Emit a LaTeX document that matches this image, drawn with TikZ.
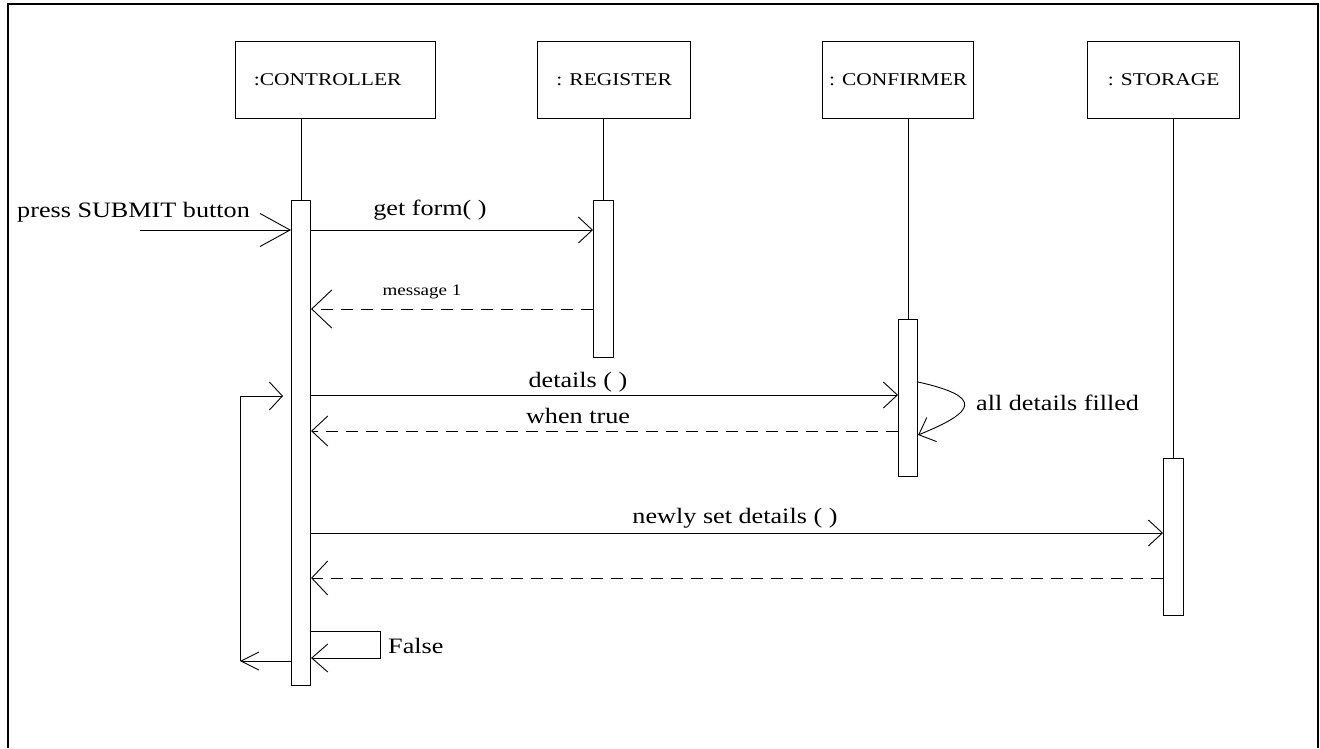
\documentclass[tikz,border=0pt]{standalone}
\usepackage{fontspec}
\setmainfont{Liberation Serif}[FakeStretch=1.19]
\usetikzlibrary{arrows.meta}

\begin{document}
\begin{tikzpicture}[x=1pt,y=-1pt,
  objbox/.style={draw, line width=1.2pt, minimum height=77pt, inner sep=0pt,
    anchor=north west, font=\fontsize{18}{21}\selectfont},
  actbar/.style={draw, fill=white, line width=1.1pt, minimum width=19pt,
    inner sep=0pt, anchor=north west},
  lifeline/.style={line width=0.9pt},
  msg/.style={line width=0.9pt, -{Straight Barb[length=14pt,width=26pt]}},
  ret/.style={msg, dash pattern=on 12pt off 8pt},
  lbl/.style={anchor=base, inner sep=0pt, font=\fontsize{22}{26}\selectfont},
  small/.style={anchor=base, inner sep=0pt, font=\fontsize{16}{19}\selectfont}
]
\useasboundingbox (0,0) rectangle (1320,748);

% outer frame
\draw[line width=1.6pt] (8,748) -- (8,4) -- (1318,4) -- (1318,748);

% objects
\node[objbox, minimum width=200pt] (ctrl) at (235,41) {:CONTROLLER\hspace*{16pt}};
\node[objbox, minimum width=153pt] (reg)  at (537,41) {: REGISTER};
\node[objbox, minimum width=151pt] (conf) at (822,41) {: CONFIRMER};
\node[objbox, minimum width=152pt] (stor) at (1087,41) {: STORAGE};

% activation bars
\node[actbar, minimum height=485pt] (ctrlbar) at (291,200) {};
\node[actbar, minimum width=20pt, minimum height=157pt] (regbar) at (593,200) {};
\node[actbar, minimum height=157pt] (confbar) at (898,319) {};
\node[actbar, minimum width=20pt, minimum height=157pt] (storbar) at (1163,458) {};

% lifelines
\draw[lifeline] (ctrl.south -| ctrlbar.north) -- (ctrlbar.north);
\draw[lifeline] (reg.south -| regbar.north) -- (regbar.north);
\draw[lifeline] (conf.south -| confbar.north) -- (confbar.north);
\draw[lifeline] (stor.south -| storbar.north) -- (storbar.north);

% external trigger
\coordinate (start) at (140,230);
\draw[msg, -{Straight Barb[length=30pt,width=33pt]}] (start) -- (ctrlbar.west |- start);
\node[lbl, anchor=base west] (press) at (17,217) {press SUBMIT button};

% get form / message 1
\draw[msg] (ctrlbar.east |- 0,230) -- (regbar.west |- 0,230);
\node[lbl] (getform) at (430,215) {get form( )};
\draw[ret, -{Straight Barb[length=20pt,width=38pt]}] (regbar.west |- 0,309) -- (ctrlbar.east |- 0,309);
\node[small] (m1) at (422,295) {message 1};

% details / when true
\draw[msg] (ctrlbar.east |- 0,395) -- (confbar.west |- 0,395);
\node[lbl] (det) at (578,387) {details ( )};
\draw[ret, -{Straight Barb[length=16pt,width=30pt]}] (confbar.west |- 0,431) -- (ctrlbar.east |- 0,431);
\node[lbl] (wt) at (578,423) {when true};

% self check on the confirmer
\draw[line width=0.9pt, -{Straight Barb[length=14pt,width=26pt]}]
  (confbar.east |- 0,382) .. controls (985,397) and (975,412) .. (confbar.east |- 0,435);
\node[lbl, anchor=base west] (adf) at (976,410) {all details filled};

% newly set details / reply
\draw[msg] (ctrlbar.east |- 0,533) -- (storbar.west |- 0,533);
\node[lbl] (nsd) at (735,523) {newly set details ( )};
\draw[ret, -{Straight Barb[length=16pt,width=34pt]}] (storbar.west |- 0,578) -- (ctrlbar.east |- 0,578);

% False branch
\draw[msg, -{Straight Barb[length=16pt,width=28pt]}]
  (ctrlbar.east |- 0,631) -- (380,631) -- (380,658) -- (ctrlbar.east |- 0,658);
\node[lbl, anchor=base west] (false) at (388,653) {False};

% repeat loop back to the top
\coordinate (loopbl) at (240,661);
\coordinate (looptl) at (240,396);
\draw[msg, -{Straight Barb[length=18pt,width=18pt]}] (ctrlbar.west |- loopbl) -- (loopbl);
\draw[msg, -{Straight Barb[length=13pt,width=28pt]}] (loopbl) -- (looptl) -- (283,396);
\end{tikzpicture}
\end{document}
